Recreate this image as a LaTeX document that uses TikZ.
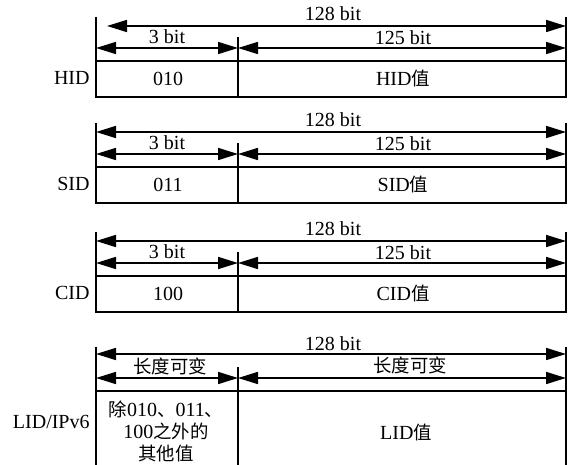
\documentclass[tikz,border=0pt]{standalone}
\usepackage{fontspec}
\setmainfont{Liberation Serif}
\newfontfamily\cjk{Noto Sans CJK SC}[Scale=0.92]
\usetikzlibrary{arrows.meta}
\tikzset{
  dimline/.style={{Triangle[length=10pt,width=6pt]}-{Triangle[length=10pt,width=6pt]}, line width=0.8pt},
  field/.style={line width=0.9pt},
  lbl/.style={font=\fontsize{10}{10}\selectfont, inner sep=0pt},
}
\begin{document}
\begin{tikzpicture}[x=0.5pt, y=-0.5pt]
\useasboundingbox (0,0) rectangle (568,465);
% three fixed-length formats
\foreach \t/\name/\code/\s in {17/HID/010/5.5pt, 123/SID/011/0pt, 232/CID/100/0pt} {
  \coordinate (\name-tl) at (96,\t);
  \coordinate (\name-tr) at (566,\t);
  \coordinate (\name-bl) at (96,\t+80);
  \coordinate (\name-br) at (566,\t+80);
  \coordinate (\name-ml) at (96,\t+44);
  \coordinate (\name-mr) at (566,\t+44);
  \coordinate (\name-dt) at (238,\t+20);
  \coordinate (\name-db) at (238,\t+80);
  \coordinate (\name-a) at (96,\t+9);
  \coordinate (\name-b) at (566,\t+9);
  \coordinate (\name-c) at (96,\t+31);
  \coordinate (\name-m) at (238,\t+31);
  \coordinate (\name-d) at (566,\t+31);
  \draw[field] (\name-tl) -- (\name-bl) -- (\name-br) -- (\name-tr);
  \draw[field] (\name-ml) -- (\name-mr);
  \draw[field] (\name-dt) -- (\name-db);
  \draw[dimline, shorten <=\s] (\name-a) -- (\name-b);
  \draw[dimline] (\name-c) -- (\name-m);
  \draw[dimline] (\name-m) -- (\name-d);
  \node[lbl] (\name-all) at (333,\t-3) {128 bit};
  \node[lbl] (\name-pre) at (167,\t+20) {3 bit};
  \node[lbl] (\name-rest) at (403,\t+21) {125 bit};
  \node[lbl] (\name-code) at (168,\t+62) {\code};
  \node[lbl] (\name-val) at (403,\t+62) {\name{\cjk 值}};
  \node[lbl, anchor=east] (\name-name) at (90,\t+61) {\name};
}
% variable-length format
\coordinate (LID-tl) at (96,347);
\coordinate (LID-tr) at (566,347);
\coordinate (LID-bl) at (96,465);
\coordinate (LID-br) at (566,465);
\coordinate (LID-ml) at (96,391);
\coordinate (LID-mr) at (566,391);
\coordinate (LID-dt) at (238,367);
\coordinate (LID-db) at (238,465);
\coordinate (LID-a) at (96,354);
\coordinate (LID-b) at (566,354);
\coordinate (LID-c) at (96,378);
\coordinate (LID-m) at (238,378);
\coordinate (LID-d) at (566,378);
\draw[field] (LID-tl) -- (LID-bl);
\draw[field] (LID-tr) -- (LID-br);
\draw[field] (LID-ml) -- (LID-mr);
\draw[field] (LID-dt) -- (LID-db);
\draw[dimline] (LID-a) -- (LID-b);
\draw[dimline] (LID-c) -- (LID-m);
\draw[dimline] (LID-m) -- (LID-d);
\node[lbl] (LID-all) at (333,344) {128 bit};
\node[lbl] (LID-pre) at (170,366) {\cjk 长度可变};
\node[lbl] (LID-rest) at (410,365) {\cjk 长度可变};
\node[lbl, align=center, font=\fontsize{10}{11}\selectfont] (LID-code) at (166,431)
  {{\cjk 除}010{\cjk 、}011{\cjk 、}\\100{\cjk 之外的}\\{\cjk 其他值}};
\node[lbl] (LID-val) at (406,433) {LID{\cjk 值}};
\node[lbl, anchor=east] (LID-name) at (90,422) {LID/IPv6};
\end{tikzpicture}
\end{document}
